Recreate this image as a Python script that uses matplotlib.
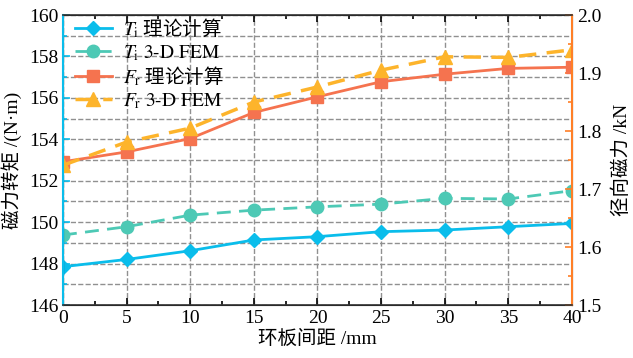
import matplotlib
matplotlib.use('Agg')
import matplotlib.pyplot as plt
from matplotlib import ticker

plt.rcParams['font.family'] = ['Liberation Serif', 'Noto Sans CJK SC']
plt.rcParams['mathtext.fontset'] = 'stix'
plt.rcParams['font.size'] = 14
plt.rcParams['axes.unicode_minus'] = False

# 环板间距 /mm
gap = [0, 5, 10, 15, 20, 25, 30, 35, 40]
# 磁力转矩 (N·m)
ti_theory = [147.85, 148.2, 148.62, 149.14, 149.3, 149.54, 149.62, 149.78, 149.94]
ti_fem = [149.38, 149.78, 150.34, 150.58, 150.74, 150.87, 151.15, 151.12, 151.52]
# 径向磁力 (kN)
fr_theory = [1.747, 1.764, 1.787, 1.832, 1.859, 1.885, 1.898, 1.908, 1.910]
fr_fem = [1.741, 1.781, 1.805, 1.850, 1.876, 1.905, 1.928, 1.927, 1.940]

c_blue = '#0ABDEB'
c_teal = '#4DC9B5'
c_red = '#F5734F'
c_sq = '#FF7F27'
c_yel = '#FDB42B'

fig = plt.figure(figsize=(6.33, 3.58), dpi=100)
ax = fig.add_axes([0.0995, 0.148, 0.804, 0.810])
ax2 = ax.twinx()

# 非数学部分用 CJK 字体渲染, 数学部分用 stix
l1, = ax.plot(gap, ti_theory, '-', color=c_blue, lw=2, marker='D', ms=7,
              label=r'$T_\mathrm{i}$ 理论计算')
l2, = ax.plot(gap, ti_fem, '--', color=c_teal, lw=2, marker='o', ms=9, dashes=(5, 3),
              label=r'$T_\mathrm{i}\ \text{3-D FEM}$')
l3, = ax2.plot(gap, fr_theory, '-', color=c_red, lw=2, marker='s', ms=8,
               mfc=c_red, mec=c_red, label=r'$F_\mathrm{r}$ 理论计算')
l4, = ax2.plot(gap, fr_fem, '--', color=c_yel, lw=2.5, marker='^', ms=10, dashes=(5, 3),
               label=r'$F_\mathrm{r}\ \text{3-D FEM}$')

ax.set_xlim(0, 40)
ax.set_ylim(146, 160)
ax2.set_ylim(1.5, 2.0)

ax.xaxis.set_major_locator(ticker.MultipleLocator(5))
ax.xaxis.set_minor_locator(ticker.MultipleLocator(2.5))
ax.yaxis.set_major_locator(ticker.MultipleLocator(2))
ax.yaxis.set_minor_locator(ticker.MultipleLocator(1))
ax2.yaxis.set_major_locator(ticker.MultipleLocator(0.1))
ax2.yaxis.set_minor_locator(ticker.MultipleLocator(0.05))
ax2.yaxis.set_major_formatter(ticker.FormatStrFormatter('%.1f'))

ax.grid(True, which='major', axis='x', ls='--', color='#909090', lw=1)
ax.grid(True, which='both', axis='y', ls='--', color='#909090', lw=1)
ax.set_axisbelow(True)

ax.tick_params(axis='x', which='both', direction='in', top=True, color='black')
ax.tick_params(axis='x', which='major', length=5, width=1.2)
ax.tick_params(axis='x', which='minor', length=3, width=1.2)
ax.tick_params(axis='y', which='both', direction='in', color=c_blue, width=1.2)
ax.tick_params(axis='y', which='major', length=5)
ax.tick_params(axis='y', which='minor', length=3)
ax2.tick_params(axis='y', which='both', direction='in', color=c_sq, width=1.2)
ax2.tick_params(axis='y', which='major', length=5)
ax2.tick_params(axis='y', which='minor', length=3)

for sp in ['top', 'bottom']:
    ax2.spines[sp].set_color('#333333')
    ax2.spines[sp].set_linewidth(1.2)
ax2.spines['left'].set_color(c_blue)
ax2.spines['left'].set_linewidth(1.5)
ax2.spines['right'].set_color(c_sq)
ax2.spines['right'].set_linewidth(1.5)

ax.set_xlabel('环板间距 /mm', labelpad=2)
ax.set_ylabel('磁力转矩 /(N·m)', labelpad=5)
ax2.set_ylabel('径向磁力 /kN', labelpad=8)

ax.legend(handles=[l1, l2, l3, l4], loc='upper left', frameon=False,
          prop={'family': 'Noto Sans CJK SC', 'size': 14},
          handlelength=1.9, borderaxespad=0.2, labelspacing=0.1,
          handletextpad=0.6, bbox_to_anchor=(0.0, 1.035))

fig.savefig('out.png', dpi=100)
